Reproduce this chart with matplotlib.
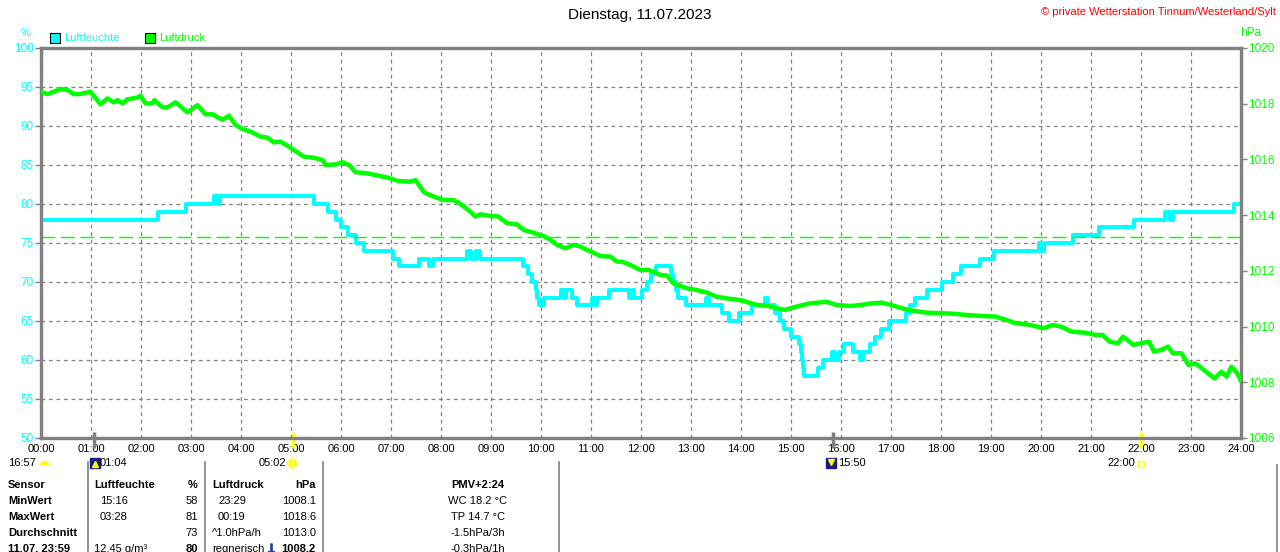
import matplotlib
matplotlib.use("Agg")
import matplotlib.pyplot as plt
from matplotlib.lines import Line2D
from matplotlib.patches import Rectangle
from matplotlib.markers import MarkerStyle

plt.rcParams['font.family'] = ['Liberation Sans', 'DejaVu Sans']

W, H = 1280, 552

# Luftfeuchte (%), Treppenverlauf: Zeitpunkt der Änderung (h) und neuer Wert
hum_t = [0, 2.33, 2.89, 3.45, 3.53, 3.58, 5.46, 5.73, 5.89, 5.99, 6.13, 6.29, 6.46,
         7.03, 7.16, 7.56, 7.76, 7.83, 8.51, 8.59, 8.69, 8.79, 9.64, 9.73, 9.82,
         9.89, 9.92, 9.95, 10.05, 10.39, 10.45, 10.49, 10.62, 10.72, 11.02, 11.08,
         11.12, 11.35, 11.75, 11.82, 11.85, 12.02, 12.12, 12.19, 12.29, 12.59, 12.64,
         12.69, 12.73, 12.89, 13.29, 13.35, 13.62, 13.75, 13.95, 14.22, 14.47, 14.53,
         14.68, 14.78, 14.85, 14.99, 15.16, 15.19, 15.22, 15.24, 15.26, 15.54, 15.64,
         15.81, 15.88, 15.95, 16.06, 16.23, 16.37, 16.43, 16.57, 16.68, 16.81, 16.95,
         17.30, 17.38, 17.47, 17.71, 18.02, 18.23, 18.40, 18.78, 19.06, 19.95, 19.99,
         20.06, 20.64, 21.16, 21.85, 22.47, 22.57, 22.64, 23.85, 23.99]
hum_v = [78, 79, 80, 81, 80, 81, 80, 79, 78, 77, 76, 75, 74,
         73, 72, 73, 72, 73, 74, 73, 74, 73, 72, 71, 70,
         69, 68, 67, 68, 69, 68, 69, 68, 67, 68, 67,
         68, 69, 68, 69, 68, 69, 70, 71, 72, 71, 70,
         69, 68, 67, 68, 67, 66, 65, 66, 67, 68, 67,
         66, 65, 64, 63, 62, 61, 60, 59, 58, 59, 60,
         61, 60, 61, 62, 61, 60, 61, 62, 63, 64, 65,
         66, 67, 68, 69, 70, 71, 72, 73, 74, 75, 74,
         75, 76, 77, 78, 79, 78, 79, 80, 80]

# Luftdruck (hPa)
pres_t = [0.00, 0.13, 0.39, 0.53, 0.66, 0.79, 0.99, 1.19, 1.33, 1.46, 1.53, 1.63, 1.73,
          1.93, 1.99, 2.09, 2.23, 2.27, 2.43, 2.53, 2.69, 2.93, 3.13, 3.29, 3.43, 3.63,
          3.76, 3.89, 4.03, 4.19, 4.39, 4.53, 4.66, 4.79, 4.93, 5.13, 5.26, 5.46, 5.63,
          5.69, 5.89, 6.03, 6.16, 6.29, 6.53, 6.73, 6.93, 7.13, 7.39, 7.49, 7.66, 7.86,
          8.06, 8.25, 8.39, 8.59, 8.69, 8.79, 8.99, 9.15, 9.32, 9.52, 9.65, 9.85, 10.05,
          10.19, 10.32, 10.49, 10.65, 10.79, 10.92, 11.05, 11.19, 11.39, 11.52, 11.62,
          11.79, 11.99, 12.15, 12.25, 12.39, 12.52, 12.65, 12.79, 12.92, 13.12, 13.32,
          13.52, 13.72, 13.99, 14.33, 14.54, 14.74, 14.88, 15.09, 15.37, 15.71, 15.92,
          16.19, 16.37, 16.61, 16.81, 17.02, 17.23, 17.43, 17.71, 17.99, 18.26, 18.47,
          18.81, 19.09, 19.30, 19.50, 19.78, 20.06, 20.23, 20.40, 20.61, 20.88, 21.09,
          21.23, 21.37, 21.54, 21.64, 21.85, 21.99, 22.16, 22.26, 22.40, 22.54, 22.64,
          22.81, 22.95, 23.09, 23.26, 23.47, 23.61, 23.71, 23.81, 23.92, 23.99]
pres_v = [1018.43, 1018.34, 1018.53, 1018.49, 1018.34, 1018.35, 1018.43, 1017.98, 1018.19,
          1018.05, 1018.13, 1018.01, 1018.16, 1018.22, 1018.29, 1018.01, 1018.01, 1018.13,
          1017.87, 1017.87, 1018.05, 1017.69, 1017.95, 1017.62, 1017.62, 1017.42, 1017.57,
          1017.24, 1017.09, 1017.00, 1016.82, 1016.78, 1016.61, 1016.64, 1016.49, 1016.25,
          1016.10, 1016.06, 1015.98, 1015.80, 1015.82, 1015.90, 1015.80, 1015.54, 1015.50,
          1015.42, 1015.35, 1015.23, 1015.20, 1015.26, 1014.82, 1014.66, 1014.54, 1014.54,
          1014.40, 1014.12, 1013.95, 1014.03, 1013.97, 1013.95, 1013.71, 1013.67, 1013.47,
          1013.37, 1013.25, 1013.11, 1012.93, 1012.81, 1012.93, 1012.87, 1012.75, 1012.65,
          1012.53, 1012.51, 1012.33, 1012.33, 1012.21, 1012.03, 1012.03, 1011.97, 1011.85,
          1011.83, 1011.55, 1011.46, 1011.37, 1011.31, 1011.22, 1011.07, 1011.01, 1010.95,
          1010.77, 1010.74, 1010.65, 1010.60, 1010.71, 1010.83, 1010.89, 1010.77, 1010.74,
          1010.77, 1010.83, 1010.86, 1010.77, 1010.65, 1010.57, 1010.50, 1010.48, 1010.46,
          1010.42, 1010.38, 1010.36, 1010.24, 1010.12, 1010.06, 1009.94, 1010.06, 1010.00,
          1009.82, 1009.78, 1009.70, 1009.70, 1009.46, 1009.40, 1009.64, 1009.34, 1009.40,
          1009.46, 1009.10, 1009.16, 1009.28, 1009.04, 1009.04, 1008.62, 1008.68, 1008.44,
          1008.14, 1008.38, 1008.20, 1008.56, 1008.34, 1008.08]
pres_avg = 1013.2

hour_labels = ["%02d:00" % h for h in range(25)]
hum_ticks = [50, 55, 60, 65, 70, 75, 80, 85, 90, 95, 100]
pres_ticks = [1006, 1008, 1010, 1012, 1014, 1016, 1018, 1020]

# Sonne / Mond Ereignisse (h)
sunrise, sunset = 5 + 2 / 60, 22.0
moonrise, moonset = 1 + 4 / 60, 15 + 50 / 60

# Tabelle
table_rows = [
    ["Sensor", "Luftfeuchte", "", "%", "Luftdruck", "", "hPa", "PMV+2:24"],
    ["MinWert", "", "15:16", "58", "", "23:29", "1008.1", "WC 18.2 °C"],
    ["MaxWert", "", "03:28", "81", "", "00:19", "1018.6", "TP 14.7 °C"],
    ["Durchschnitt", "", "", "73", "^1.0hPa/h", "", "1013.0", "-1.5hPa/3h"],
    ["11.07. 23:59", "12.45 g/m³", "", "80", "regnerisch", "", "1008.2", "-0.3hPa/1h"],
]

CYAN = "#00ffff"
GREEN = "#00ff00"
GRAY = "#808080"


def px(x, y):
    return x / W, 1 - y / H


fig = plt.figure(figsize=(W / 100, H / 100), dpi=100)
ax = fig.add_axes([41 / W, 114 / H, 1200 / W, 390 / H])
ax2 = ax.twinx()

ax.step(hum_t, hum_v, where="post", color=CYAN, lw=2.9, zorder=3)
ax2.plot(pres_t, pres_v, color=GREEN, lw=3.2, zorder=3)
ax2.axhline(pres_avg, color=GREEN, lw=1.0, ls=(0, (10, 4)), zorder=2)

ax.set_xlim(0, 24)
ax.set_ylim(50, 100)
ax2.set_ylim(1006, 1020)
ax.set_xticks(range(25))
ax.set_xticklabels(hour_labels, fontsize=8)
ax.set_yticks(hum_ticks)
ax.set_yticklabels([str(v) for v in hum_ticks], fontsize=8.5, color=CYAN)
ax2.set_yticks(pres_ticks)
ax2.set_yticklabels([str(v) for v in pres_ticks], fontsize=8.5, color=GREEN)

ax.grid(True, color=GRAY, lw=0.9, ls=(0, (3, 3)))
ax.set_axisbelow(True)
ax.tick_params(axis="x", length=0, pad=4, colors="black")
ax.tick_params(axis="y", length=4, width=1, color=GRAY, pad=1)
ax2.tick_params(axis="y", length=4, width=1, color=GRAY, pad=1)
for a in (ax, ax2):
    for s in a.spines.values():
        s.set_color(GRAY)
        s.set_linewidth(2.3)

# Marken für Sonne / Mond an der Zeitachse
ax.vlines([sunrise, sunset], -0.025, 0.015, transform=ax.get_xaxis_transform(),
          color="#ffff00", lw=2, clip_on=False, zorder=5)
ax.vlines([moonrise, moonset], -0.025, 0.015, transform=ax.get_xaxis_transform(),
          color=GRAY, lw=2.5, clip_on=False, zorder=5)

# Kopfzeile
fig.text(*px(640, 15), "Dienstag, 11.07.2023", ha="center", va="center", fontsize=11)
fig.text(*px(1276, 12), "© private Wetterstation Tinnum/Westerland/Sylt", ha="right",
         va="center", fontsize=8, color="red")
fig.text(*px(26, 33), "%", ha="center", va="center", fontsize=8, color=CYAN)
fig.text(*px(1251, 33), "hPa", ha="center", va="center", fontsize=8.5, color=GREEN)

fig.patches.append(Rectangle(px(50, 43), 10 / W, 10 / H, transform=fig.transFigure,
                             facecolor=CYAN, edgecolor="black", lw=0.8))
fig.text(*px(64, 38), "Luftfeuchte", va="center", fontsize=8, color=CYAN)
fig.patches.append(Rectangle(px(145, 43), 10 / W, 10 / H, transform=fig.transFigure,
                             facecolor=GREEN, edgecolor="black", lw=0.8))
fig.text(*px(159, 38), "Luftdruck", va="center", fontsize=8, color=GREEN)


def mark(x, y, **kw):
    fig.add_artist(Line2D([x / W], [1 - y / H], transform=fig.transFigure, ls="none", **kw))


# Zeiten unter der Achse
ev_y = 463
fig.text(*px(36, ev_y), "16:57", ha="right", va="center", fontsize=8)
mark(44, ev_y + 2, marker=MarkerStyle("o", fillstyle="top"), ms=7, mfc="#ffff00",
     mfcalt="none", mec="none")
mark(95, ev_y, marker="s", ms=7, mfc="#1c1c7c", mec="#1c1c7c")
mark(95, ev_y + 1, marker="^", ms=4, mfc="#ffff00", mec="#ffff00")
fig.text(*px(100, ev_y), "01:04", va="center", fontsize=8)
fig.text(*px(286, ev_y), "05:02", ha="right", va="center", fontsize=8)
mark(292, ev_y, marker="o", ms=6, mfc="#ffff00", mec="#ffff00")
mark(292, ev_y, marker="+", ms=10, mew=1, mec="#ffff80")
fig.text(*px(838, ev_y), "15:50", va="center", fontsize=8)
mark(831, ev_y, marker="s", ms=7, mfc="#1c1c7c", mec="#1c1c7c")
mark(831, ev_y - 1, marker="v", ms=4, mfc="#ffff00", mec="#ffff00")
fig.text(*px(1135, ev_y), "22:00", ha="right", va="center", fontsize=8)
mark(1141, ev_y + 1, marker="s", ms=4, mfc="none", mec="#ffff00", mew=1)

# Tabelle unten
for lx in (88, 205, 323, 559):
    fig.add_artist(Line2D([lx / W] * 2, [1 - 462 / H, 0], transform=fig.transFigure,
                          color=GRAY, lw=1.2))
fig.add_artist(Line2D([1277 / W] * 2, [1 - 465 / H, 0], transform=fig.transFigure,
                      color=GRAY, lw=1.2))

row_y = [485, 501, 517, 533, 549]
col_x = [(8, "left"), (94, "left"), (100, "left"), (198, "right"), (212, "left"),
         (218, "left"), (316, "right"), (478, "center")]
for r, (vals, yy) in enumerate(zip(table_rows, row_y)):
    for c, (val, (cx, ha)) in enumerate(zip(vals, col_x)):
        if not val:
            continue
        bold = r == 0 or c == 0 or (r == 4 and c in (3, 6))
        fig.text(*px(cx, yy), val, ha=ha, va="center", fontsize=8,
                 fontweight="bold" if bold else "normal")
mark(271, row_y[4], marker="$\\downarrow$", ms=8, mfc="#2040a0", mec="#2040a0")

fig.savefig("out.png", dpi=100)
